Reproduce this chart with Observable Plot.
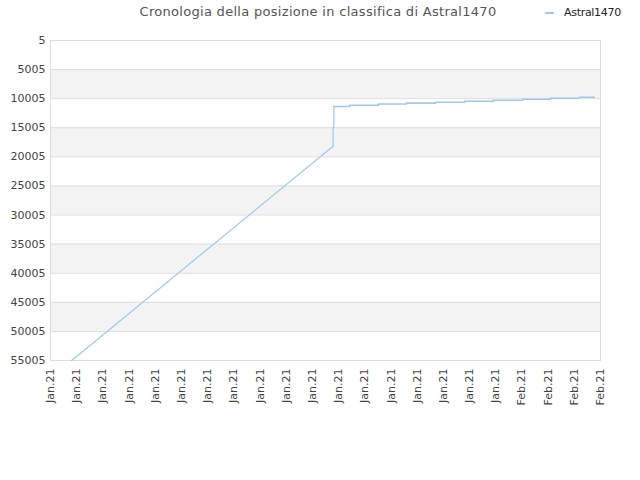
<!DOCTYPE html>
<html>
<head>
<meta charset="utf-8">
<script src="https://cdn.jsdelivr.net/npm/d3@7"></script>
<script src="https://cdn.jsdelivr.net/npm/@observablehq/plot@0.6"></script>
<style>
  html, body { margin: 0; padding: 0; background: #fff; }
  #wrap { position: relative; width: 640px; height: 480px; font-family: "DejaVu Sans", sans-serif; }
  #title { position: absolute; top: 4px; left: 0; width: 636px; text-align: center; font-size: 13px; letter-spacing: 0.3px; color: #555; }
  #legend { position: absolute; top: 6px; left: 545px; font-size: 11px; letter-spacing: -0.3px; color: #222; display: flex; align-items: center; }
  #legend .sw { display: inline-block; width: 9px; height: 2px; background: #9cc8f3; margin-right: 10px; }
  #chart { position: absolute; top: 0; left: 0; }
</style>
</head>
<body>
<div id="wrap">
  <div id="chart"></div>
  <div id="title">Cronologia della posizione in classifica di Astral1470</div>
  <div id="legend"><span class="sw"></span>Astral1470</div>
</div>
<script>
// x positions are in units of x-axis tick slots (0..21)
const xLabels = ["Jan.21","Jan.21","Jan.21","Jan.21","Jan.21","Jan.21","Jan.21","Jan.21","Jan.21","Jan.21","Jan.21","Jan.21","Jan.21","Jan.21","Jan.21","Jan.21","Jan.21","Jan.21","Feb.21","Feb.21","Feb.21","Feb.21"];
const yTicks = [5, 5005, 10005, 15005, 20005, 25005, 30005, 35005, 40005, 45005, 50005, 55005];
const bandStarts = [5005, 15005, 25005, 35005, 45005];
const bandEnds = [10005, 20005, 30005, 40005, 50005];

// Rising part (linear) and jump
const riseX = [0.81, 10.79, 10.79, 10.82, 10.82];
const riseRank = [55005, 18172, 14906, 14906, 11348];
// Stepped part
const stepX = [10.82, 11.42, 12.52, 13.59, 14.70, 15.81, 16.91, 18.02, 19.09, 20.20, 20.77];
const stepRank = [11348, 11125, 10919, 10764, 10610, 10455, 10283, 10111, 9939, 9750, 9750];

const rise = riseX.map((x, i) => ({x, rank: riseRank[i]}));
const steps = stepX.map((x, i) => ({x, rank: stepRank[i]}));
const bands = bandStarts.map((s, i) => ({y1: s, y2: bandEnds[i]}));
const lineColor = "#9cc8f3";

const chart = Plot.plot({
  width: 640,
  height: 480,
  marginLeft: 50,
  marginRight: 40,
  marginTop: 40,
  marginBottom: 120,
  style: { fontFamily: "DejaVu Sans, sans-serif", fontSize: "11px", color: "#444", background: "transparent" },
  x: { domain: [0, 21] },
  y: { domain: [5, 55005], reverse: true },
  marks: [
    Plot.rect(bands, { y1: "y1", y2: "y2", fill: "#f3f3f3" }),
    Plot.ruleY(yTicks, { stroke: "#dddddd" }),
    Plot.frame({ stroke: "#dddddd" }),
    Plot.axisY({ ticks: yTicks, tickSize: 0, tickPadding: 5, tickFormat: d => String(d), label: null, fontSize: 11 }),
    Plot.axisX({ ticks: d3.range(0, 22), tickSize: 0, tickPadding: 8, tickRotate: -90, tickFormat: i => xLabels[i], label: null, fontSize: 11 }),
    Plot.line(rise, { x: "x", y: "rank", stroke: lineColor, strokeWidth: 1.2 }),
    Plot.line(steps, { x: "x", y: "rank", stroke: lineColor, strokeWidth: 1.6, curve: "step-after" })
  ]
});
document.getElementById("chart").appendChild(chart);
</script>
</body>
</html>
